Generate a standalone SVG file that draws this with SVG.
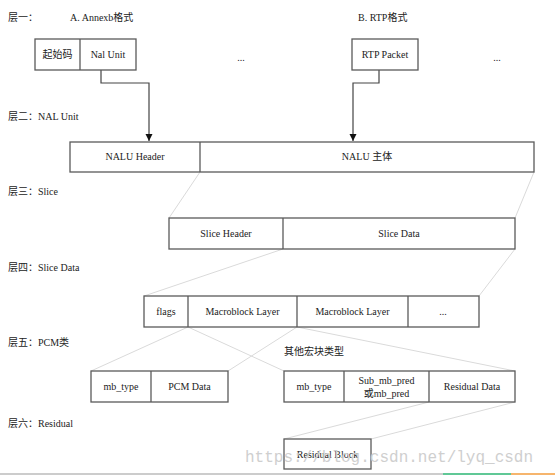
<svg xmlns="http://www.w3.org/2000/svg" width="555" height="475" viewBox="0 0 555 475">
<style>
.box{fill:#fff;stroke:#5a5a5a;stroke-width:1.3}
.div{stroke:#5a5a5a;stroke-width:1.3}
.t{font-family:"Liberation Serif","Noto Sans CJK SC",serif;font-size:10px;fill:#222;text-anchor:middle}
.l{font-family:"Liberation Serif","Noto Sans CJK SC",serif;font-size:10px;fill:#222}
.arr{fill:none;stroke:#444;stroke-width:1.2}
.fan{stroke:#dadada;stroke-width:1;fill:none}
.wm{font-family:"Liberation Mono",monospace;font-size:16px;fill:#cfcfcf}
</style>
<defs>
<marker id="ah" markerWidth="8" markerHeight="8" refX="7" refY="4" orient="auto" markerUnits="userSpaceOnUse">
<path d="M0,0.5 L7,4 L0,7.5 z" fill="#111"/>
</marker>
</defs>
<g id="labels">
<text class="l" x="8" y="21">层一：</text>
<text class="l" x="70" y="21">A. Annexb格式</text>
<text class="l" x="358" y="21">B. RTP格式</text>
<text class="l" x="8" y="120">层二：NAL Unit</text>
<text class="l" x="8" y="195">层三：Slice</text>
<text class="l" x="8" y="271">层四：Slice Data</text>
<text class="l" x="8" y="346">层五：PCM类</text>
<text class="l" x="284" y="355">其他宏块类型</text>
<text class="l" x="8" y="427">层六：Residual</text>
<text class="t" x="241" y="61">...</text>
<text class="t" x="497" y="61">...</text>
</g>
<g id="connectors">
<path class="arr" d="M101,70 V83 H149 V141" marker-end="url(#ah)"/>
<path class="arr" d="M379,70 V83 H353 V141" marker-end="url(#ah)"/>
<line class="fan" x1="200" y1="172" x2="169" y2="218"/>
<line class="fan" x1="534" y1="172" x2="515" y2="218"/>
<line class="fan" x1="283" y1="249" x2="144" y2="296"/>
<line class="fan" x1="515" y1="249" x2="479" y2="296"/>
<line class="fan" x1="188" y1="327" x2="91" y2="371"/>
<line class="fan" x1="297" y1="327" x2="228" y2="371"/>
<line class="fan" x1="188" y1="327" x2="284" y2="371"/>
<line class="fan" x1="297" y1="327" x2="515" y2="371"/>
<line class="fan" x1="429" y1="402" x2="284" y2="439"/>
<line class="fan" x1="515" y1="402" x2="371" y2="439"/>
</g>
<g id="annexb">
<rect class="box" x="35" y="39" width="101" height="31"/>
<line class="div" x1="80" y1="39" x2="80" y2="70"/>
<text class="t" x="57.5" y="58">起始码</text>
<text class="t" x="108" y="58">Nal Unit</text>
</g>
<g id="rtp">
<rect class="box" x="352" y="39" width="66" height="31"/>
<text class="t" x="385" y="58">RTP Packet</text>
</g>
<g id="nalu">
<rect class="box" x="70" y="142" width="464" height="30"/>
<line class="div" x1="200" y1="142" x2="200" y2="172"/>
<text class="t" x="135" y="160">NALU Header</text>
<text class="t" x="367" y="160">NALU 主体</text>
</g>
<g id="slice">
<rect class="box" x="169" y="218" width="346" height="31"/>
<line class="div" x1="283" y1="218" x2="283" y2="249"/>
<text class="t" x="226" y="237">Slice Header</text>
<text class="t" x="399" y="237">Slice Data</text>
</g>
<g id="slicedata">
<rect class="box" x="144" y="296" width="335" height="31"/>
<line class="div" x1="188" y1="296" x2="188" y2="327"/>
<line class="div" x1="297" y1="296" x2="297" y2="327"/>
<line class="div" x1="408" y1="296" x2="408" y2="327"/>
<text class="t" x="166" y="315">flags</text>
<text class="t" x="242.5" y="315">Macroblock Layer</text>
<text class="t" x="352.5" y="315">Macroblock Layer</text>
<text class="t" x="443" y="315">...</text>
</g>
<g id="pcm">
<rect class="box" x="91" y="371" width="137" height="31"/>
<line class="div" x1="151" y1="371" x2="151" y2="402"/>
<text class="t" x="121" y="390">mb_type</text>
<text class="t" x="189.5" y="390">PCM Data</text>
</g>
<g id="other">
<rect class="box" x="284" y="371" width="231" height="31"/>
<line class="div" x1="344" y1="371" x2="344" y2="402"/>
<line class="div" x1="429" y1="371" x2="429" y2="402"/>
<text class="t" x="314" y="390">mb_type</text>
<text class="t" x="386.5" y="384">Sub_mb_pred</text>
<text class="t" x="386.5" y="397">或mb_pred</text>
<text class="t" x="472" y="390">Residual Data</text>
</g>
<g id="residual">
<rect class="box" x="284" y="439" width="87" height="30"/>
<text class="t" x="327.5" y="458">Residual Block</text>
</g>
<text class="wm" x="245" y="462">https://blog.csdn.net/lyq_csdn</text>
<line x1="0" y1="474" x2="443" y2="474" stroke="#bbb" stroke-width="1.5"/>
<line x1="443" y1="474" x2="511" y2="474" stroke="#2bb673" stroke-width="1.5"/>
<line x1="511" y1="474" x2="555" y2="474" stroke="#f39c3c" stroke-width="1.5"/>
</svg>
